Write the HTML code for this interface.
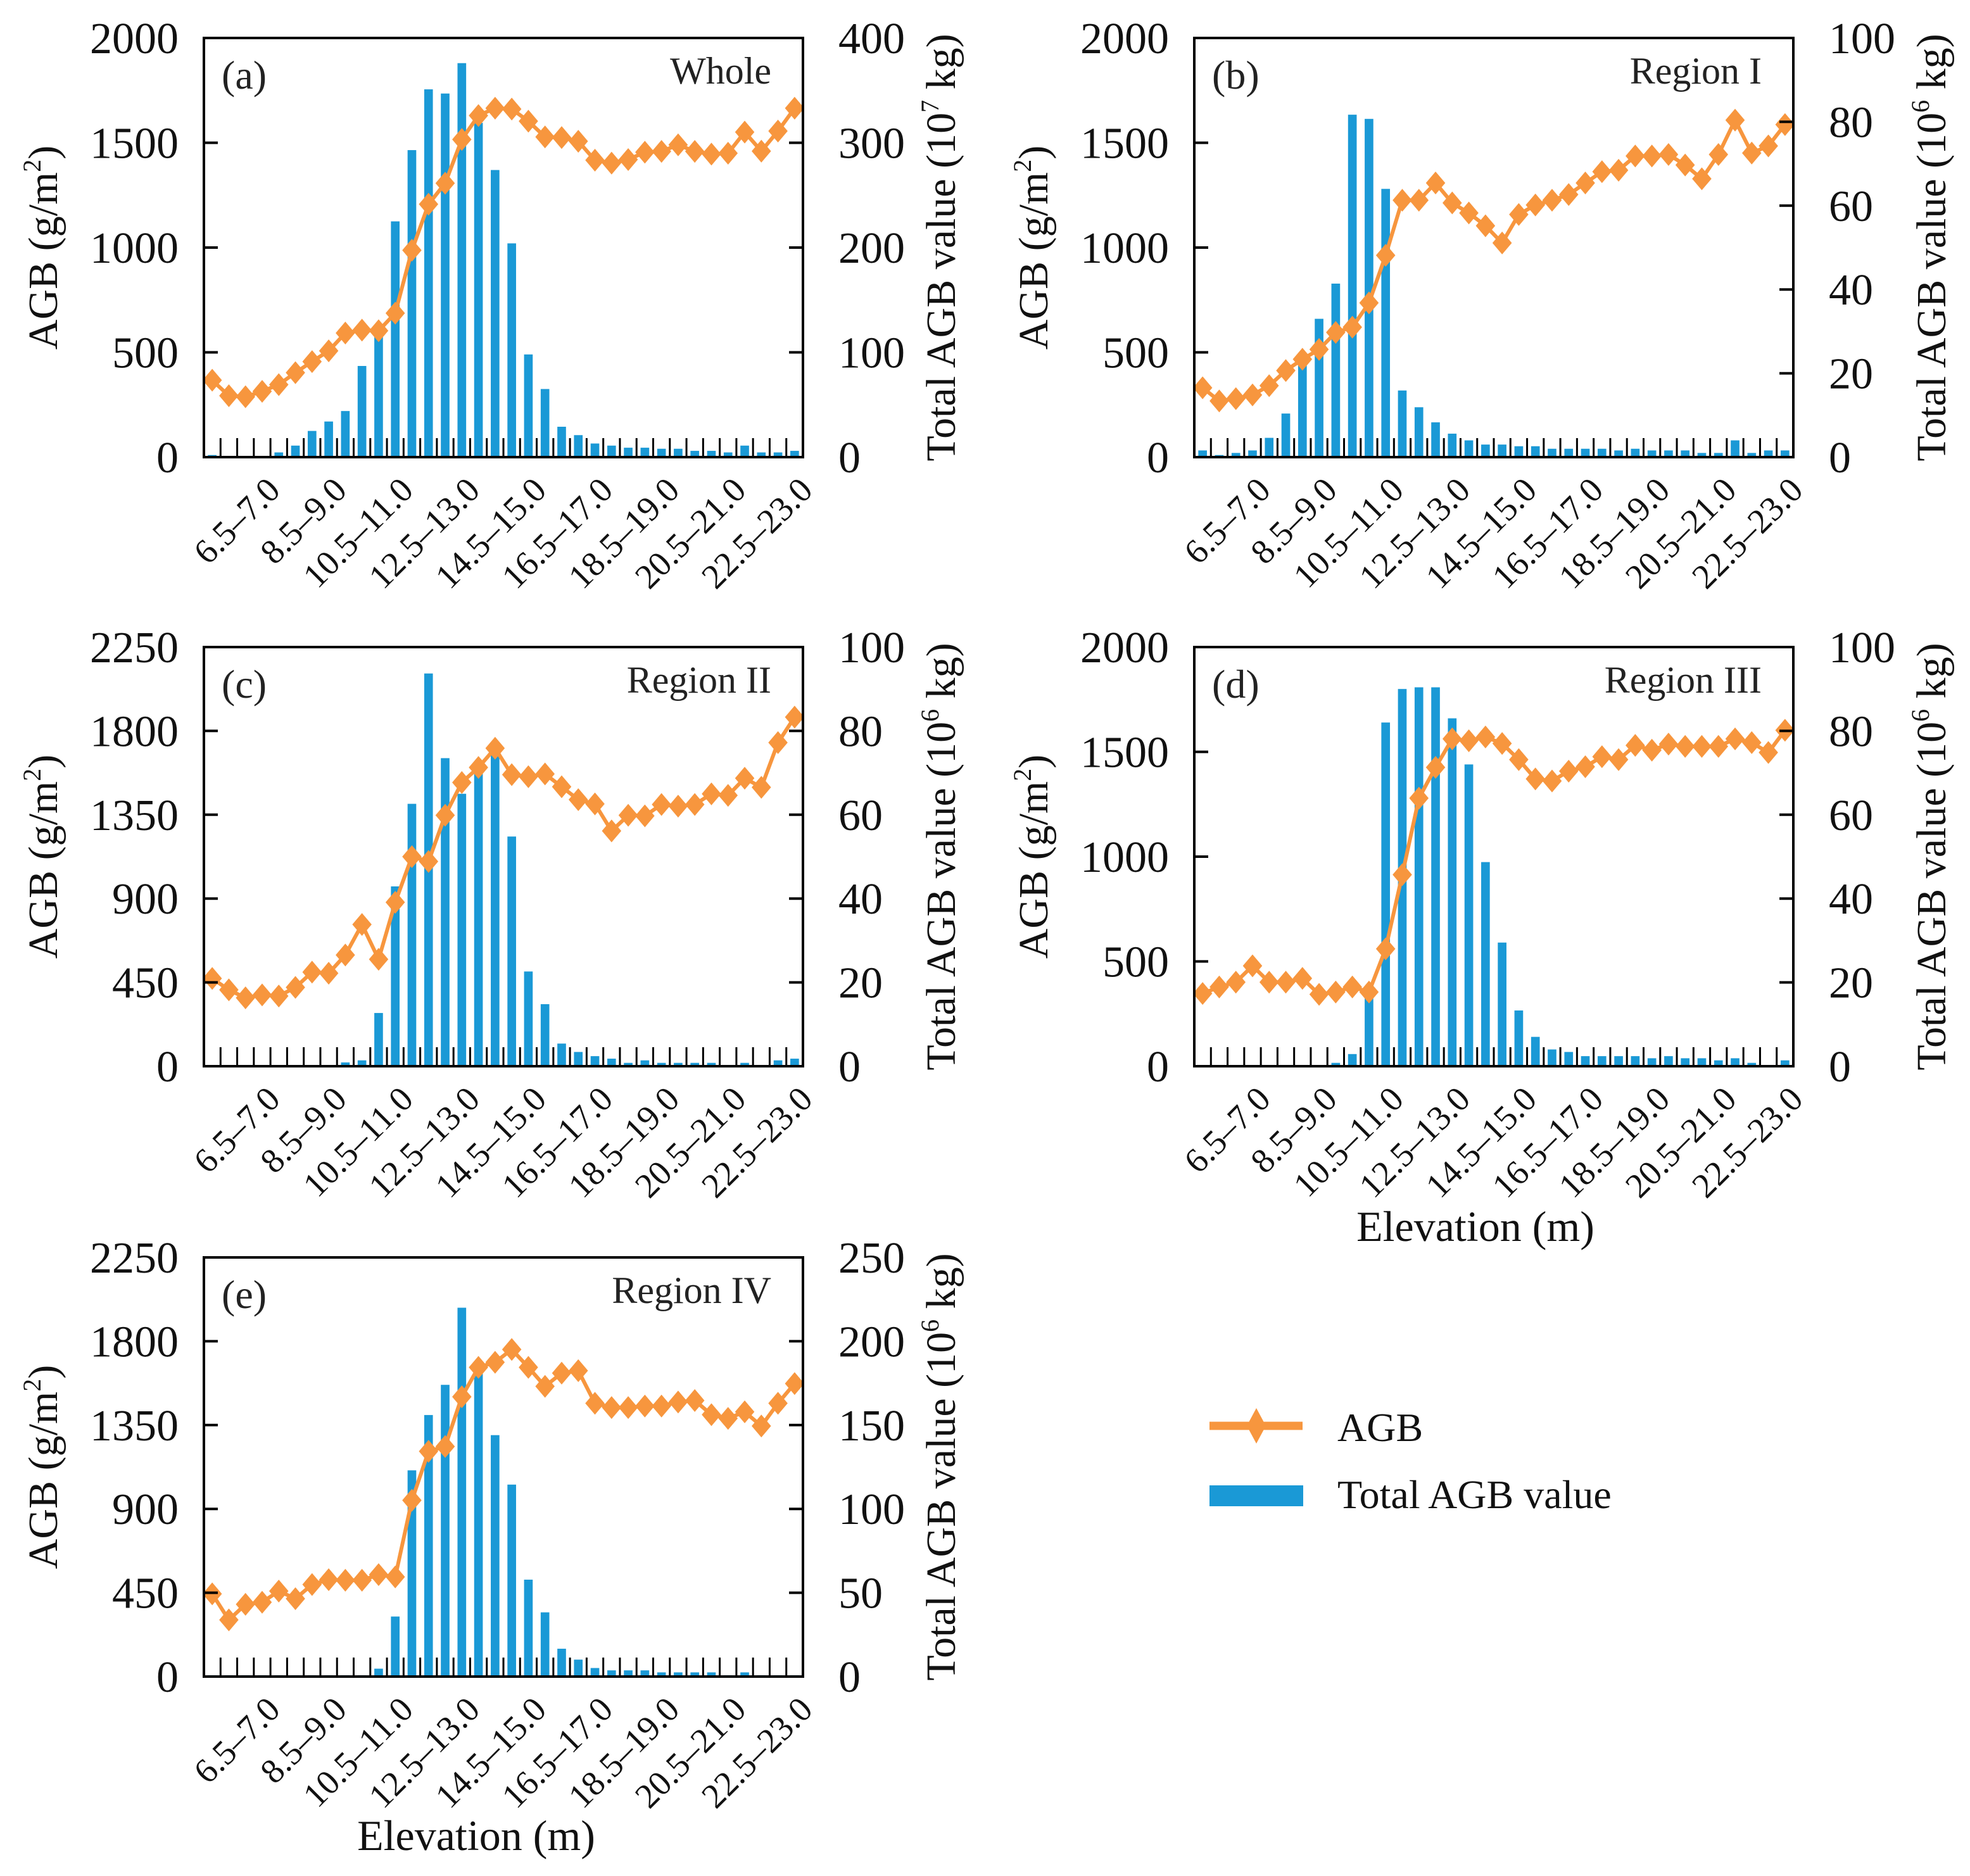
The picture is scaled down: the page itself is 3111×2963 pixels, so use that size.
<!DOCTYPE html>
<html><head><meta charset="utf-8">
<style>
html,body{margin:0;padding:0;background:#fff;}
svg{display:block;font-family:"Liberation Serif",serif;}
</style></head>
<body>
<svg id="fig" width="3111" height="2963" viewBox="0 0 3111 2963" xmlns="http://www.w3.org/2000/svg"></svg>
<script>
const categories = ["5.0–5.5","5.5–6.0","6.0–6.5","6.5–7.0","7.0–7.5","7.5–8.0","8.0–8.5","8.5–9.0","9.0–9.5","9.5–10.0","10.0–10.5","10.5–11.0","11.0–11.5","11.5–12.0","12.0–12.5","12.5–13.0","13.0–13.5","13.5–14.0","14.0–14.5","14.5–15.0","15.0–15.5","15.5–16.0","16.0–16.5","16.5–17.0","17.0–17.5","17.5–18.0","18.0–18.5","18.5–19.0","19.0–19.5","19.5–20.0","20.0–20.5","20.5–21.0","21.0–21.5","21.5–22.0","22.0–22.5","22.5–23.0"];
const agbA = [367,293,288,314,346,403,456,507,592,606,603,687,987,1207,1307,1516,1630,1665,1661,1603,1528,1525,1507,1417,1403,1420,1455,1459,1490,1459,1446,1450,1551,1460,1556,1665];
const totA = [2,0,0,0,4.5,11,25,34,44,87,118,225,293,351,347,376,319,274,204,98,65,29,21,13,11,9,9,8,8,6,6,4.5,11,4.5,4.5,6];
const agbB = [331,268,279,297,341,413,467,514,595,620,736,963,1226,1226,1308,1213,1165,1104,1022,1158,1203,1226,1253,1308,1362,1369,1437,1437,1444,1394,1328,1444,1608,1451,1485,1587];
const totB = [1.6,0.5,1,1.6,4.6,10.4,22,33,41.4,81.7,80.7,64,15.9,11.9,8.3,5.6,4,3,3,2.6,2.6,2,2,2,2,1.6,2,1.6,1.6,1.6,1,1,4,1,1.6,1.6];
const agbC = [471,410,367,383,377,423,505,499,597,761,574,880,1125,1099,1347,1523,1604,1707,1565,1554,1569,1500,1431,1408,1263,1347,1344,1405,1396,1405,1462,1454,1546,1497,1737,1874];
const totC = [0.3,0.3,0.3,0.3,0.3,0.3,0.3,0.3,0.9,1.4,12.7,42.9,62.6,93.7,73.5,65,70,74.8,54.8,22.6,14.8,5.4,3.4,2.4,1.8,0.8,1.4,0.8,0.8,0.8,0.8,0.3,0.8,0.3,1.4,1.8];
const agbD = [347,378,401,479,401,401,419,343,354,378,354,560,914,1279,1426,1562,1553,1571,1540,1463,1371,1361,1408,1429,1477,1463,1531,1508,1537,1526,1526,1526,1562,1544,1497,1603];
const totD = [0.3,0.3,0.3,0.3,0.3,0.3,0.3,0.3,0.8,2.9,18,82,90,90.4,90.4,83,72,48.7,29.5,13.3,7,4,3.4,2.4,2.4,2.4,2.4,1.9,2.4,1.9,1.9,1.4,1.9,0.8,0.3,1.4];
const agbE = [444,304,388,399,459,418,494,520,517,517,547,535,946,1209,1235,1502,1660,1687,1756,1660,1558,1629,1642,1467,1444,1444,1452,1452,1474,1482,1406,1386,1421,1345,1467,1573];
const totE = [0.8,0.8,0.8,0.8,0.8,0.8,0.8,0.8,0.8,0.8,4.7,35.8,123,156,174,220,183,144,114.5,57.8,38.3,16.6,10.1,5.1,3.7,3.7,3.7,2.5,2.5,2.5,2.5,0.8,2.5,0.8,0.8,0.8];
const leftTicksA = [0,500,1000,1500,2000];
const rightTicksA = [0,100,200,300,400];
const leftTicksB = [0,500,1000,1500,2000];
const rightTicksB = [0,20,40,60,80,100];
const leftTicksC = [0,450,900,1350,1800,2250];
const rightTicksC = [0,20,40,60,80,100];
const leftTicksD = [0,500,1000,1500,2000];
const rightTicksD = [0,20,40,60,80,100];
const leftTicksE = [0,450,900,1350,1800,2250];
const rightTicksE = [0,50,100,150,200,250];

const NS = "http://www.w3.org/2000/svg";
const svg = document.getElementById("fig");
const ORANGE = "#f7963e", BLUE = "#1a99d6";
function mk(tag, attrs, parent){ const e=document.createElementNS(NS,tag); for(const k in attrs) e.setAttribute(k,attrs[k]); (parent||svg).appendChild(e); return e; }

function panel(cfg){
  const g = mk("g",{});
  
  
  const L=cfg.x0, R=cfg.x1, T=cfg.y0, B=cfg.y1;
  const n=categories.length, bw=(R-L)/n;
  const lmax=cfg.lt[cfg.lt.length-1], rmax=cfg.rt[cfg.rt.length-1];
  const xc=i=>L+bw*(i+0.5);
  const yl=v=>B-(v/lmax)*(B-T);
  const yr=v=>B-(v/rmax)*(B-T);
  cfg.tot.forEach((v,i)=>{
    const r=mk("rect",{x:xc(i)-bw*0.26,y:yr(v),width:bw*0.52,height:B-yr(v),fill:BLUE},g);
    
    
  });
  for(let i=1;i<n;i++){
    mk("line",{x1:L+bw*i,x2:L+bw*i,y1:B,y2:B-30,stroke:"#000","stroke-width":3},g);
  }
  const pts=cfg.agb.map((v,i)=>xc(i)+","+yl(v)).join(" ");
  const pl=mk("polyline",{points:pts,fill:"none",stroke:ORANGE,"stroke-width":6,"stroke-linejoin":"round"},g);
  
  
  cfg.agb.forEach((v,i)=>{
    const x=xc(i), y=yl(v), s=18;
    const d=mk("polygon",{points:`${x},${y-s} ${x+s*0.85},${y} ${x},${y+s} ${x-s*0.85},${y}`,fill:ORANGE},g);
    
    
  });
  const fr=mk("rect",{x:L,y:T,width:R-L,height:B-T,fill:"none",stroke:"#000","stroke-width":4},g);
  
  
  cfg.lt.forEach(v=>{
    const y=yl(v);
    if(v>0&&v<lmax) mk("line",{x1:L,x2:L+22,y1:y,y2:y,stroke:"#000","stroke-width":4},g);
    const t=mk("text",{x:L-40,y:y+24,"text-anchor":"end","font-size":70,fill:"#111"},g);
    t.textContent=v;
    
    
  });
  cfg.rt.forEach(v=>{
    const y=yr(v);
    if(v>0&&v<rmax) mk("line",{x1:R,x2:R-22,y1:y,y2:y,stroke:"#000","stroke-width":4},g);
    const t=mk("text",{x:R+56,y:y+24,"text-anchor":"start","font-size":70,fill:"#111"},g);
    t.textContent=v;
    
    
  });
  for(let i=3;i<n;i+=4){
    const x=xc(i)+4, y=B+28;
    const t=mk("text",{x:x,y:y,"text-anchor":"end","font-size":55,fill:"#111",transform:`rotate(-45 ${x} ${y})`,dy:"0.7em"},g);
    t.textContent=categories[i];
    
    
  }
  const ly=(T+B)/2, lx=L-232;
  const at=mk("text",{x:lx,y:ly,"text-anchor":"middle","font-size":66,fill:"#111",transform:`rotate(-90 ${lx} ${ly})`},g);
  at.innerHTML='AGB (g/m<tspan font-size="40" dy="-26">2</tspan><tspan dy="26">)</tspan>';
  
  
  const rx=R+240;
  const rt=mk("text",{x:rx,y:ly,"text-anchor":"middle","font-size":66,fill:"#111",transform:`rotate(-90 ${rx} ${ly})`},g);
  rt.innerHTML='Total AGB value (10<tspan font-size="40" dy="-26">'+cfg.exp+'</tspan><tspan dy="26"> kg)</tspan>';
  
  
  const pl2=mk("text",{x:L+28,y:T+80,"font-size":64,fill:"#222"},g);
  pl2.textContent="("+cfg.id+")";
  
  
  const ttl=mk("text",{x:R-50,y:T+72,"text-anchor":"end","font-size":60,fill:"#222"},g);
  ttl.textContent=cfg.title;
  
  
}

panel({id:"a",title:"Whole",x0:322,x1:1268,y0:60,y1:722,agb:agbA,tot:totA,lt:leftTicksA,rt:rightTicksA,exp:"7"});
panel({id:"b",title:"Region I",x0:1886,x1:2832,y0:60,y1:722,agb:agbB,tot:totB,lt:leftTicksB,rt:rightTicksB,exp:"6"});
panel({id:"c",title:"Region II",x0:322,x1:1268,y0:1022,y1:1684,agb:agbC,tot:totC,lt:leftTicksC,rt:rightTicksC,exp:"6"});
panel({id:"d",title:"Region III",x0:1886,x1:2832,y0:1022,y1:1684,agb:agbD,tot:totD,lt:leftTicksD,rt:rightTicksD,exp:"6"});
panel({id:"e",title:"Region IV",x0:322,x1:1268,y0:1986,y1:2648,agb:agbE,tot:totE,lt:leftTicksE,rt:rightTicksE,exp:"6"});

const ex1=mk("text",{x:2330,y:1960,"text-anchor":"middle","font-size":68,fill:"#111"});
ex1.textContent="Elevation (m)";


const ex2=mk("text",{x:752,y:2922,"text-anchor":"middle","font-size":68,fill:"#111"});
ex2.textContent="Elevation (m)";



const lg=mk("g",{});


mk("line",{x1:1910,x2:2057,y1:2252,y2:2252,stroke:ORANGE,"stroke-width":13},lg);
mk("polygon",{points:"1984,2224 1999,2252 1984,2280 1969,2252",fill:ORANGE},lg);
const l1=mk("text",{x:2112,y:2276,"font-size":64,fill:"#111"},lg);
l1.textContent="AGB";


mk("rect",{x:1910,y:2346,width:148,height:33,fill:BLUE},lg);
const l2=mk("text",{x:2112,y:2382,"font-size":64,fill:"#111"},lg);
l2.textContent="Total AGB value";


</script>
</body></html>
